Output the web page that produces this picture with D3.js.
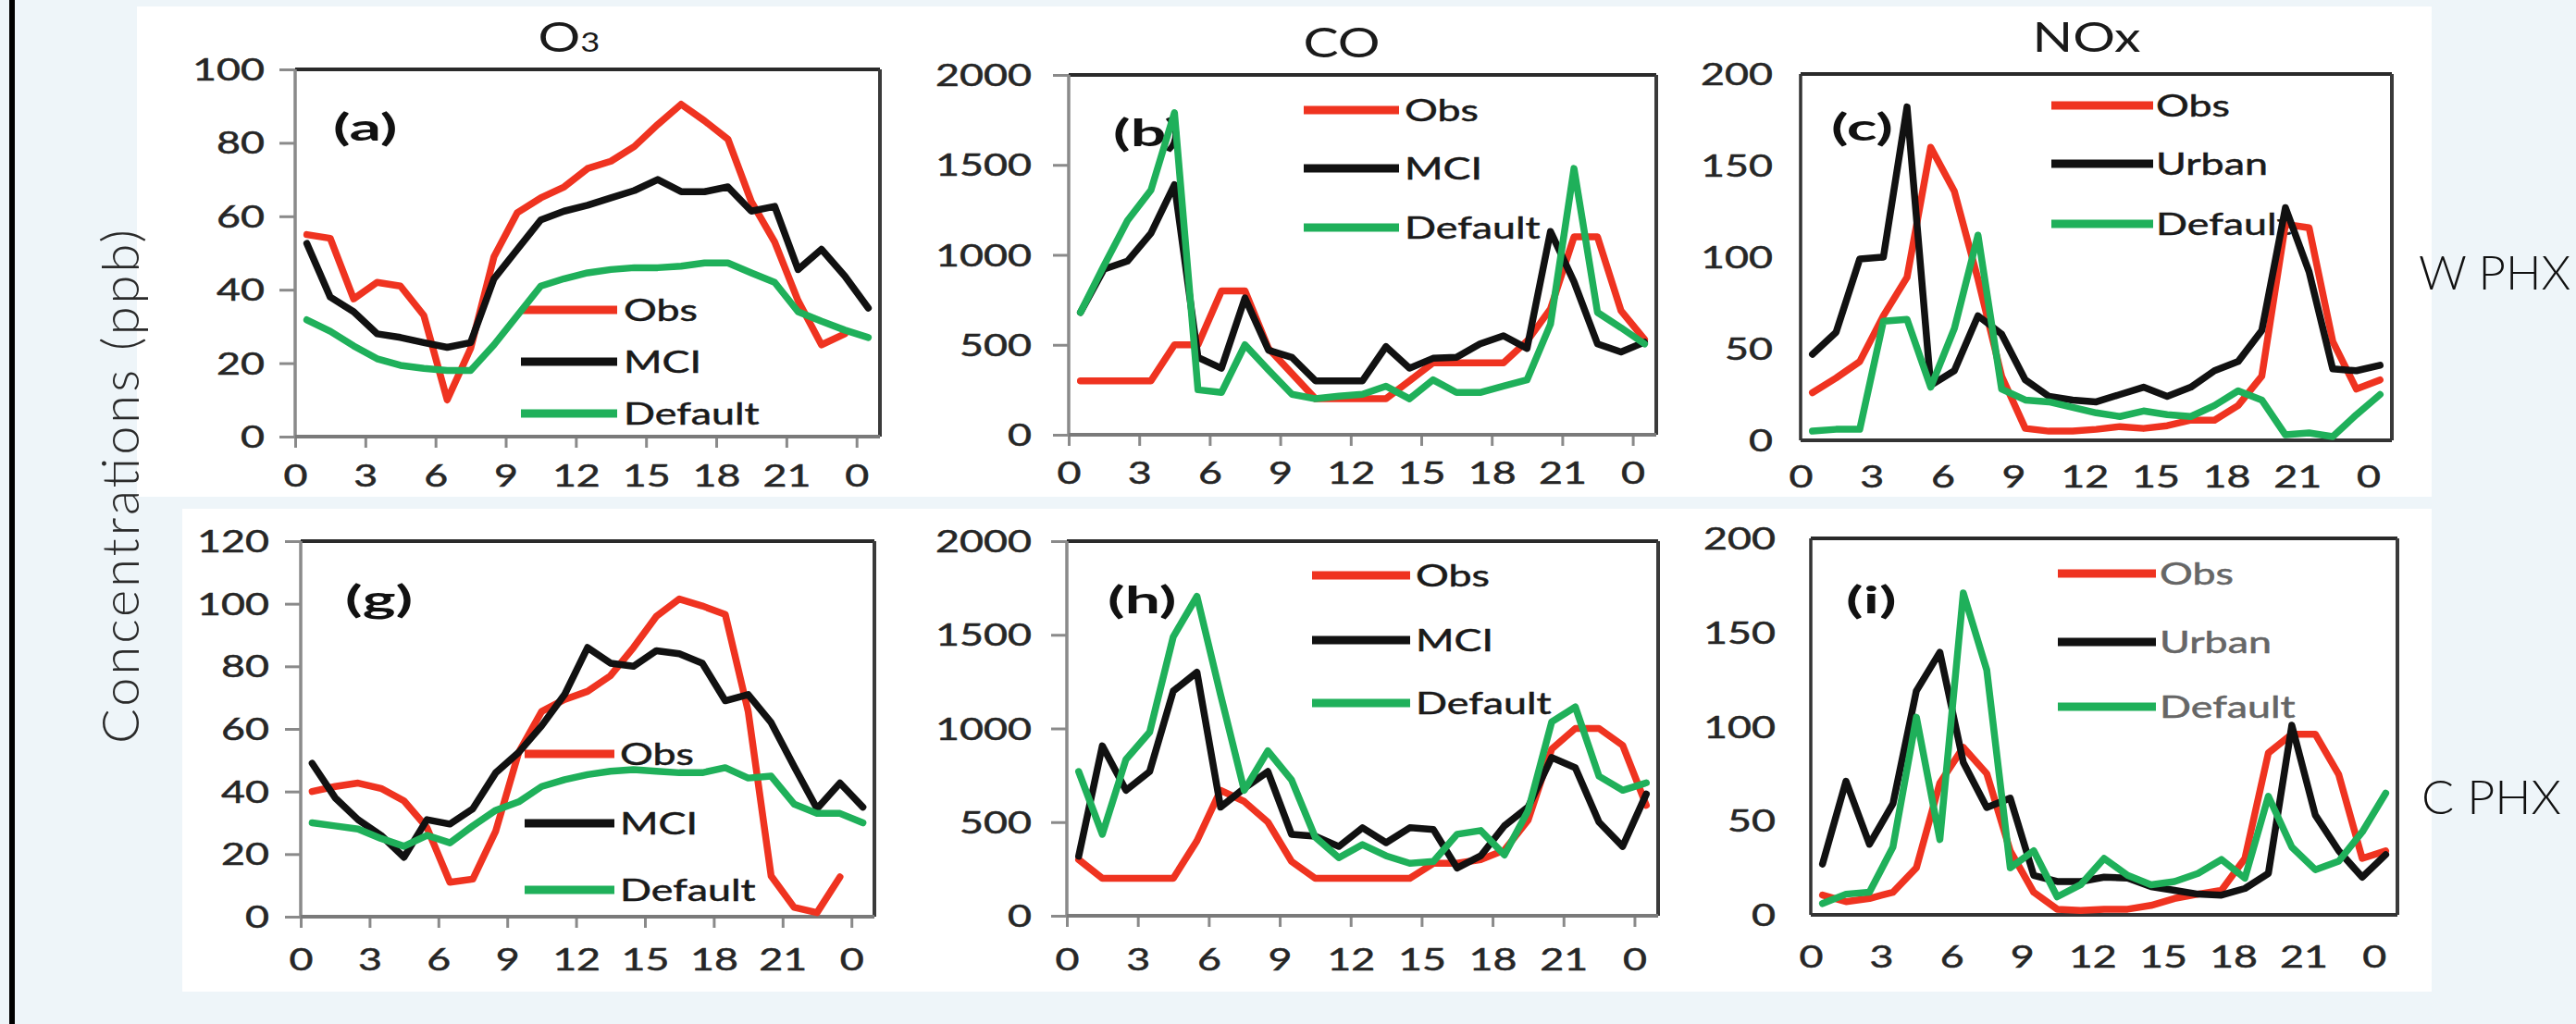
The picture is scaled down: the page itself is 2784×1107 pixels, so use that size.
<!DOCTYPE html>
<html><head><meta charset="utf-8">
<script src="https://cdn.jsdelivr.net/npm/d3@7"></script>
<style>html,body{margin:0;padding:0;background:#eef5f9;overflow:hidden}</style>
</head><body>
<svg id="c" width="2784" height="1107"></svg>
<script>
// ---------- data ----------
const hours = [0.5,1.5,2.5,3.5,4.5,5.5,6.5,7.5,8.5,9.5,10.5,11.5,12.5,13.5,14.5,15.5,16.5,17.5,18.5,19.5,20.5,21.5,22.5,23.5,24.5];
const xTickValues = [0,3,6,9,12,15,18,21,24];
const xTickLabels = ["0","3","6","9","12","15","18","21","0"];
const namesMci = ["Obs","MCI","Default"];
const namesUrban = ["Obs","Urban","Default"];
const columnTitles = ["O", "CO", "NOx"];
const rowLabels = ["W PHX", "C PHX"];
const yAxisTitle = "Concentrations (ppb)";

// W PHX (top row)
const o3W_obs = [55,54,37.5,42,41,33,10,24,49,61,65,68,73,75,79,85,90.5,86,81,64,53,37,25,28,null];
const o3W_mci = [52.6,38,34,28,27,25.6,24.3,25.6,43,51,59,61.4,63,65,67,70,66.7,66.7,68,61.4,62.7,45.5,51,43.7,35];
const o3W_def = [31.8,28.7,24.7,21.2,19.4,18.6,18,18,25,33,41,43,44.6,45.5,46,46,46.4,47.3,47.3,44.6,42,34,31.4,29,27];
const coW_obs = [300,300,300,300,500,500,800,800,480,340,200,200,200,200,300,400,400,400,400,520,700,1100,1100,690,530];
const coW_mci = [680,920,965,1120,1390,430,370,760,470,430,300,300,300,490,370,425,430,505,550,480,1130,850,505,460,515];
const coW_def = [680,940,1190,1360,1790,250,235,500,360,225,200,215,225,270,200,305,235,235,270,305,615,1480,680,595,505];
const noxW_obs = [26,34,43,68,89,160,136,88,35,6.5,5,5,6,7.5,6.5,8,11,11,19,35,118,116,54,28,33];
const noxW_urb = [47,59,99,100,182,30,38,68,58,33,24,22,21,25,29,24,29,38,43,60,127,92,39,38,41];
const noxW_def = [5,6,6,65,66,29,61,112,28,22,21,18,15,13,16,14,13,19,27,22,3,4,2,14,25];

// C PHX (bottom row)
const o3C_obs = [40,41.6,42.7,41,37,28.5,11,12,27.4,52.5,65.6,69.4,72,77,86,96,101.5,99.3,96.6,65.6,13,3,1.3,12.7,null];
const o3C_mci = [49,38,31,26,19,31,29.6,34.5,46,52.5,61,71,86,81,80,85,84,81,69,71,62,48,34.5,42.7,35];
const o3C_def = [30,29,28,25,22.5,26,23.6,29,34,36.7,41.6,43.8,45.4,46.5,47,46.5,46,46,47.6,44.3,44.9,36,33,33,30];
const coC_obs = [300,200,200,200,200,400,670,610,500,290,200,200,200,200,200,280,280,300,350,510,890,1000,1000,910,590];
const coC_mci = [318,907,670,770,1200,1300,580,680,770,435,425,370,470,390,470,460,255,320,480,580,845,790,500,370,650];
const coC_def = [770,435,835,980,1490,1705,1180,670,880,725,420,310,380,320,280,290,435,455,325,560,1035,1115,745,670,710];
const noxC_obs = [10.5,7,8.7,12,25,70,89,75,34,12,3,2.3,3,3,5,8.7,11,13,30,86,96,96,74.5,30,34];
const noxC_urb = [27,71,37.5,59,119,139.5,81,57,62,21,17.7,17.7,20,19.5,15,13,11,10.5,14,22,100.7,53,34,20,32];
const noxC_def = [6,11,12,36,105,40,171,130,25,34,9.6,16,30,21,16,17.7,22,29.4,19.5,63,36,24,28.5,44,64.6];

// ---------- drawing ----------
const FONT = "Lato, 'Open Sans', sans-serif";
const COLORS = ["#ef3320", "#111111", "#1fb05a"];
const svg = d3.select("#c");

svg.append("rect").attr("width", 2784).attr("height", 1107).attr("fill", "#eef5f9");
svg.append("rect").attr("x", 10).attr("y", 0).attr("width", 6).attr("height", 1107).attr("fill", "#000");
svg.append("rect").attr("x", 148).attr("y", 7).attr("width", 2480).attr("height", 530).attr("fill", "#fff");
svg.append("rect").attr("x", 197).attr("y", 550).attr("width", 2431).attr("height", 522).attr("fill", "#fff");

const panels = [
  {L:319,R:951,T:75,B:472,yMax:100,yStep:20,data:[o3W_obs,o3W_mci,o3W_def],names:namesMci,
   leg:{x1:563,x2:667,tx:674,ys:[335,391,447]},label:"(a)",lab:[360,152],ylo:33,xlo:54,ticks:true,dark:false,legFill:"#1a1a1a"},
  {L:1155,R:1790,T:81,B:470,yMax:2000,yStep:500,data:[coW_obs,coW_mci,coW_def],names:namesMci,
   leg:{x1:1409,x2:1512,tx:1518,ys:[119,182,246]},label:"(b)",lab:[1203,158],ylo:40,xlo:53,ticks:true,dark:false,legFill:"#1a1a1a"},
  {L:1946,R:2585,T:80,B:476,yMax:200,yStep:50,data:[noxW_obs,noxW_urb,noxW_def],names:namesUrban,
   leg:{x1:2217,x2:2327,tx:2330,ys:[114,177,242]},label:"(c)",lab:[1979,152],ylo:30,xlo:51,ticks:false,dark:true,legFill:"#1a1a1a"},
  {L:325,R:945,T:585,B:991,yMax:120,yStep:20,data:[o3C_obs,o3C_mci,o3C_def],names:namesMci,
   leg:{x1:567,x2:664,tx:670,ys:[815,890,962]},label:"(g)",lab:[373,662],ylo:34,xlo:58,ticks:true,dark:false,legFill:"#1a1a1a"},
  {L:1153,R:1792,T:585,B:990,yMax:2000,yStep:500,data:[coC_obs,coC_mci,coC_def],names:namesMci,
   leg:{x1:1418,x2:1524,tx:1530,ys:[622,692,760]},label:"(h)",lab:[1197,663],ylo:38,xlo:59,ticks:true,dark:false,legFill:"#1a1a1a"},
  {L:1957,R:2591,T:582,B:989,yMax:200,yStep:50,data:[noxC_obs,noxC_urb,noxC_def],names:namesUrban,
   leg:{x1:2224,x2:2330,tx:2334,ys:[620,694,764]},label:"(i)",lab:[1995,663],ylo:38,xlo:57,ticks:false,dark:true,legFill:"#666"}
];

panels.forEach(p => {
  const x = d3.scaleLinear().domain([0, 25]).range([p.L, p.R]);
  const y = d3.scaleLinear().domain([0, p.yMax]).range([p.B, p.T]);
  const g = svg.append("g");
  const axisCol = p.dark ? "#333" : "#8a8a8a";

  // y axis
  const ya = g.append("g").attr("transform", `translate(${p.L},0)`)
    .call(d3.axisLeft(y).tickValues(d3.range(0, p.yMax + 1, p.yStep)).tickFormat(d3.format("d"))
      .tickSize(p.ticks ? 17 : 0).tickPadding(0));
  ya.select(".domain").remove();
  ya.selectAll("line").attr("stroke", "#8a8a8a").attr("stroke-width", 3);
  ya.attr("font-family", FONT).attr("font-size", 32);
  ya.selectAll("text").attr("x", null).attr("dy", "0.36em").attr("fill", "#262626")
    .attr("stroke", "#262626").attr("stroke-width", 0.5)
    .attr("text-anchor", "end")
    .attr("transform", `translate(${-p.ylo},0) scale(1.4,1)`);

  // x axis
  const xa = g.append("g").attr("transform", `translate(0,${p.B})`)
    .call(d3.axisBottom(x).tickValues(xTickValues).tickFormat((d, i) => xTickLabels[i]).tickSize(p.ticks ? 12 : 0).tickPadding(0));
  xa.select(".domain").remove();
  xa.selectAll("line").attr("stroke", "#8a8a8a").attr("stroke-width", 3);
  xa.attr("font-family", FONT).attr("font-size", 32);
  xa.selectAll("text").attr("y", null).attr("dy", null).attr("fill", "#262626")
    .attr("stroke", "#262626").attr("stroke-width", 0.5)
    .attr("transform", `translate(0,${p.xlo}) scale(1.4,1)`);

  // frame
  g.append("line").attr("x1", p.L).attr("x2", p.R).attr("y1", p.T).attr("y2", p.T).attr("stroke", "#2a2a2a").attr("stroke-width", 4);
  g.append("line").attr("x1", p.R).attr("x2", p.R).attr("y1", p.T).attr("y2", p.B).attr("stroke", "#3a3a3a").attr("stroke-width", 4);
  g.append("line").attr("x1", p.L).attr("x2", p.L).attr("y1", p.T).attr("y2", p.B).attr("stroke", axisCol).attr("stroke-width", 3.5);
  g.append("line").attr("x1", p.L).attr("x2", p.R).attr("y1", p.B).attr("y2", p.B).attr("stroke", p.dark ? "#333" : "#7a7a7a").attr("stroke-width", 4);

  // panel label
  g.append("text").attr("transform", `translate(${p.lab[0]},${p.lab[1]}) scale(1.7,1)`)
    .attr("font-family", FONT).attr("font-weight", 700).attr("font-size", 40).attr("fill", "#111").text(p.label);

  // legend
  p.names.forEach((n, i) => {
    g.append("line").attr("x1", p.leg.x1).attr("x2", p.leg.x2).attr("y1", p.leg.ys[i]).attr("y2", p.leg.ys[i])
      .attr("stroke", COLORS[i]).attr("stroke-width", 9);
    g.append("text").attr("transform", `translate(${p.leg.tx},${p.leg.ys[i] + 12}) scale(1.4,1)`)
      .attr("font-family", FONT).attr("font-size", 32).attr("fill", p.legFill)
      .attr("stroke", p.legFill).attr("stroke-width", 0.5).text(n);
  });

  // lines
  const line = d3.line().defined(d => d.v != null).x(d => x(d.h)).y(d => y(d.v));
  p.data.forEach((arr, i) => {
    g.append("path").datum(hours.map((h, k) => ({h: h, v: arr[k]})))
      .attr("d", line).attr("fill", "none").attr("stroke", COLORS[i]).attr("stroke-width", 7.5)
      .attr("stroke-linejoin", "round").attr("stroke-linecap", "round");
  });
});

// column titles
const titles = [{x:615,y:56,sub:"3"},{x:1450,y:62,sub:null},{x:2255,y:56,sub:null}];
titles.forEach((t, i) => {
  const tx = svg.append("text").attr("transform", `translate(${t.x},${t.y}) scale(1.3,1)`)
    .attr("text-anchor", "middle").attr("font-family", FONT).attr("font-size", 44).attr("fill", "#1a1a1a");
  tx.append("tspan").text(columnTitles[i]);
  if (t.sub) tx.append("tspan").attr("font-size", 28).text(t.sub);
});

// row labels
svg.append("text").attr("x", 2614).attr("y", 313).attr("font-family", FONT).attr("font-weight", 300)
  .attr("font-size", 51).attr("fill", "#111").text(rowLabels[0]);
svg.append("text").attr("x", 2617).attr("y", 880).attr("font-family", FONT).attr("font-weight", 300)
  .attr("font-size", 52).attr("fill", "#111").text(rowLabels[1]);

// y axis title
svg.append("text").attr("transform", "translate(150,526) rotate(-90)")
  .attr("text-anchor", "middle").attr("font-family", FONT).attr("font-weight", 300)
  .attr("font-size", 56).attr("fill", "#2a2a2a")
  .attr("textLength", 556).attr("lengthAdjust", "spacing").text(yAxisTitle);
</script>
</body></html>
